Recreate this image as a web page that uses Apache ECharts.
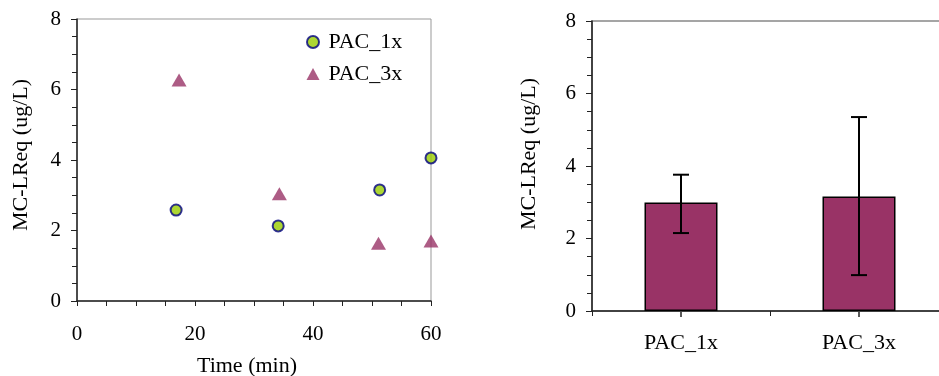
<!DOCTYPE html>
<html>
<head>
<meta charset="utf-8">
<script src="https://cdn.jsdelivr.net/npm/echarts@6/dist/echarts.min.js"></script>
<style>
    html, body { margin: 0; padding: 0; background: #fff; }
    #main { width: 939px; height: 376px; }
</style>
</head>
<body>
<div id="main"></div>
<script>
// scatter: time (min) vs MC-LReq
const pac1Time = [16.8, 34.1, 51.3, 60];
const pac1Value = [2.58, 2.13, 3.15, 4.06];
const pac3Time = [17.3, 34.3, 51.1, 60];
const pac3Value = [6.27, 3.04, 1.64, 1.70];

// bar: mean with error bar
const barCategories = ['PAC_1x', 'PAC_3x'];
const barValues = [2.99, 3.16];
const errLow = [2.15, 0.99];
const errHigh = [3.76, 5.35];

const xTicks = [0, 20, 40, 60];
const yTicks = [0, 2, 4, 6, 8];

function pairs(xs, ys) {
    var res = [];
    for (var i = 0; i < xs.length; i++) {
        res.push([xs[i], ys[i]]);
    }
    return res;
}

function initChart() {
    const font = 'Liberation Serif';
    const axisLine = { lineStyle: { color: '#222', width: 1.5 } };
    const tickStyle = { lineStyle: { color: '#222', width: 1 } };

    function valueY(gridIndex) {
        return {
            type: 'value',
            gridIndex: gridIndex,
            min: yTicks[0],
            max: yTicks[yTicks.length - 1],
            interval: yTicks[1] - yTicks[0],
            axisLine: Object.assign({ show: true }, axisLine),
            axisTick: Object.assign({ show: true, length: 6 }, tickStyle),
            minorTick: Object.assign({ show: true, splitNumber: 4, length: 5 }, tickStyle),
            splitLine: { show: false },
            axisLabel: { color: '#000', fontFamily: font, fontSize: 21, margin: 16 }
        };
    }

    const option = {
        backgroundColor: '#fff',
        animation: false,
        grid: [
            { left: 77, top: 19, width: 354, height: 282, show: true, borderColor: '#999', borderWidth: 1,
              outerBoundsMode: 'none', containLabel: false },
            { left: 592, top: 21, width: 356, height: 290, show: true, borderColor: '#888', borderWidth: 1.5,
              outerBoundsMode: 'none', containLabel: false }
        ],
        legend: {
            left: 301,
            top: 26,
            orient: 'vertical',
            itemWidth: 13,
            itemHeight: 12,
            itemGap: 10,
            textStyle: { fontFamily: font, fontSize: 22, color: '#000', padding: [0, 0, 0, 4] },
            data: ['PAC_1x', 'PAC_3x']
        },
        xAxis: [{
            type: 'value',
            gridIndex: 0,
            min: xTicks[0],
            max: xTicks[xTicks.length - 1],
            interval: xTicks[1] - xTicks[0],
            name: 'Time (min)',
            nameLocation: 'middle',
            nameGap: 54,
            nameTextStyle: { fontFamily: font, fontSize: 22, color: '#000', padding: [0, 14, 0, 0] },
            axisLine: axisLine,
            axisTick: Object.assign({ show: true, length: 5 }, tickStyle),
            minorTick: Object.assign({ show: true, splitNumber: 4, length: 5 }, tickStyle),
            splitLine: { show: false },
            axisLabel: { color: '#000', fontFamily: font, fontSize: 21, margin: 23 }
        }, {
            type: 'category',
            gridIndex: 1,
            position: 'bottom',
            data: barCategories,
            axisLine: axisLine,
            axisTick: Object.assign({ show: true, length: 5 }, tickStyle),
            axisLabel: { color: '#000', fontFamily: font, fontSize: 22, margin: 21 }
        }],
        yAxis: [valueY(0), valueY(1)],
        graphic: [{
            type: 'text',
            x: 21, y: 155,
            rotation: Math.PI / 2,
            style: { text: 'MC-LReq (ug/L)', fontFamily: font, fontSize: 22, fill: '#000', align: 'center', verticalAlign: 'middle' }
        }, {
            type: 'text',
            x: 529, y: 154,
            rotation: Math.PI / 2,
            style: { text: 'MC-LReq (ug/L)', fontFamily: font, fontSize: 22, fill: '#000', align: 'center', verticalAlign: 'middle' }
        }],
        series: [{
            name: 'PAC_1x',
            type: 'scatter',
            xAxisIndex: 0,
            yAxisIndex: 0,
            symbol: 'circle',
            symbolSize: 11,
            clip: false,
            itemStyle: { color: '#99cc00', borderColor: '#000080', borderWidth: 2 },
            data: pairs(pac1Time, pac1Value)
        }, {
            name: 'PAC_3x',
            type: 'scatter',
            xAxisIndex: 0,
            yAxisIndex: 0,
            symbol: 'triangle',
            symbolSize: [15, 13],
            clip: false,
            itemStyle: { color: '#993366' },
            data: pairs(pac3Time, pac3Value)
        }, {
            type: 'bar',
            xAxisIndex: 1,
            yAxisIndex: 1,
            barWidth: 73,
            itemStyle: { color: '#993366', borderColor: '#000', borderWidth: 1.5 },
            data: barValues
        }, {
            type: 'custom',
            xAxisIndex: 1,
            yAxisIndex: 1,
            clip: false,
            z: 10,
            data: barCategories.map(function (c, i) { return [i, errLow[i], errHigh[i]]; }),
            renderItem: function (params, api) {
                var lo = api.coord([api.value(0), api.value(1)]);
                var hi = api.coord([api.value(0), api.value(2)]);
                var base = api.coord([api.value(0), yTicks[0]]);
                var w = 8;
                var st = { stroke: '#000', lineWidth: 2 };
                return {
                    type: 'group',
                    children: [
                        { type: 'line', shape: { x1: lo[0], y1: lo[1], x2: hi[0], y2: hi[1] }, style: st },
                        { type: 'line', shape: { x1: lo[0] - w, y1: lo[1], x2: lo[0] + w, y2: lo[1] }, style: st },
                        { type: 'line', shape: { x1: hi[0] - w, y1: hi[1], x2: hi[0] + w, y2: hi[1] }, style: st },
                        // short tick under the bar centre, as in the source chart
                        { type: 'line', shape: { x1: base[0], y1: base[1] + 1, x2: base[0], y2: base[1] + 6 },
                          style: { stroke: '#222', lineWidth: 1.5 } }
                    ]
                };
            }
        }]
    };
    return option;
}

var myChart = echarts.init(document.getElementById('main'));
myChart.setOption(initChart());
</script>
</body>
</html>
